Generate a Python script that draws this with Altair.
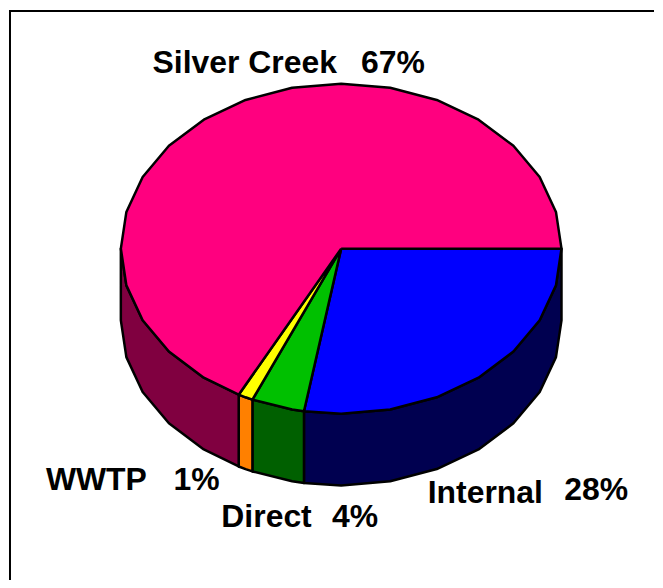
import numpy as np
import pandas as pd
import altair as alt

# Data
names = ["Internal", "Direct", "WWTP", "Silver Creek"]
shares = [27.7, 3.9, 1.1, 67.3]
pct_labels = ["28%", "4%", "1%", "67%"]

# Styling
top_colors = ["#0000ff", "#00c000", "#ffff00", "#ff007f"]
side_colors = ["#000050", "#006000", "#ff8000", "#800040"]

# Layout (page pixels)
W, H = 647, 572
CX, CY, RX, RY, DEPTH = 341.2, 247.5, 221, 165.5, 72
STEP = 360 / 28
name_pos = [(428, 503), (221, 527), (45, 490), (152, 71)]
pct_pos = [(565, 500), (332, 527), (173, 490), (361, 71)]
FONT = 32
LINE = 2.5


def rim(a, b):
    inner = np.arange(np.ceil(a / STEP + 1e-9), np.floor(b / STEP - 1e-9) + 1) * STEP
    return np.concatenate([[a], inner, [b]])


def px(t, drop=0.0):
    r = np.radians(t)
    return CX + RX * np.cos(r), CY + RY * np.sin(r) + drop


def poly(xs, ys):
    xs, ys = list(xs), list(ys)
    return pd.DataFrame({"x": xs + xs[:1], "y": ys + ys[:1], "i": range(len(xs) + 1)})


X = alt.X("x:Q", scale=alt.Scale(domain=[8, 8 + W], range=[0, W]), axis=None)
Y = alt.Y("y:Q", scale=alt.Scale(domain=[8 + H, 8], range=[H, 0]), axis=None)


def shape(df, color):
    return alt.Chart(df).mark_line(
        filled=True, fill=color, stroke="black", strokeWidth=LINE, strokeJoin="round",
        interpolate="linear", clip=False
    ).encode(x=X, y=Y, order="i:Q")


edges = np.cumsum([0] + [s * 3.6 for s in shares])
sides, tops = [], []
for k in range(len(names)):
    a, b = edges[k], min(edges[k + 1], 360)
    if a < 180:
        t = rim(a, min(b, 180))
        x, y = px(t)
        x2, y2 = px(t[::-1], DEPTH)
        sides.append(shape(poly(np.r_[x, x2], np.r_[y, y2]), side_colors[k]))
    t = rim(a, b)
    x, y = px(t)
    tops.append(shape(poly(np.r_[CX, x], np.r_[CY, y]), top_colors[k]))

texts = []
for k in range(len(names)):
    for s, (tx, ty) in ((names[k], name_pos[k]), (pct_labels[k], pct_pos[k])):
        texts.append(
            alt.Chart(pd.DataFrame({"x": [tx], "y": [ty], "t": [s]}))
            .mark_text(font="Liberation Sans", fontWeight="bold", fontSize=FONT,
                       align="left", baseline="alphabetic", color="black")
            .encode(x=X, y=Y, text="t:N")
        )

frame_left = alt.Chart(pd.DataFrame({"x": [9], "y": [8], "y2": [8 + H]})).mark_rule(
    color="black", strokeWidth=2).encode(x=X, y=Y, y2="y2:Q")
frame_top = alt.Chart(pd.DataFrame({"x": [8], "x2": [8 + W], "y": [9]})).mark_rule(
    color="black", strokeWidth=2).encode(x=X, x2="x2:Q", y=Y)

chart = alt.layer(frame_left, frame_top, *sides, *tops, *texts).properties(
    width=W, height=H, padding=0, background="white"
).configure_view(stroke=None)

chart.save("out.html", embed_options={"renderer": "svg", "actions": False})
